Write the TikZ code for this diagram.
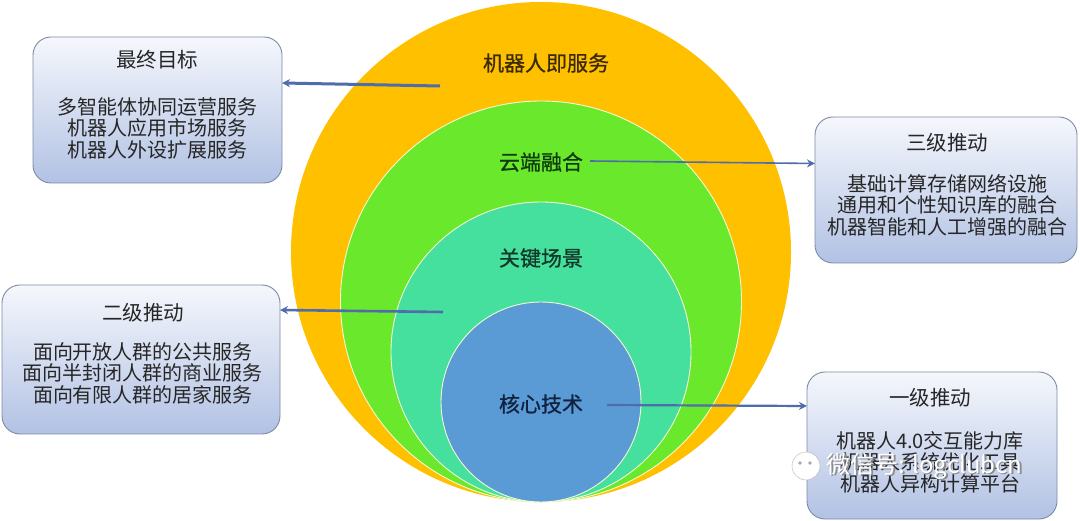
\documentclass[tikz,border=0pt]{standalone}
\usepackage{fontspec}
\newfontfamily\cjk{Noto Sans CJK SC}
\newfontfamily\cjkb[FakeBold=0.8]{Noto Sans CJK SC}
\usetikzlibrary{arrows.meta}
\definecolor{corange}{HTML}{FFC000}
\definecolor{cgreen}{HTML}{6AE82C}
\definecolor{cteal}{HTML}{45DF9E}
\definecolor{cblue}{HTML}{5B9BD5}
\definecolor{arrowc}{HTML}{4E6DAA}
\definecolor{boxtop}{HTML}{F5F7FC}
\definecolor{boxbot}{HTML}{B2C2E4}
\definecolor{boxline}{HTML}{7D8AA6}
\definecolor{boxtext}{HTML}{262626}
\definecolor{ringline}{HTML}{F4FAD0}
\definecolor{txtone}{HTML}{3A2A05}
\definecolor{txttwo}{HTML}{0E3A0E}
\definecolor{txtthree}{HTML}{12382A}
\definecolor{txtfour}{HTML}{10223F}
\begin{document}
\begin{tikzpicture}[x=1pt,y=-1pt,
  ring/.style={circle,inner sep=0pt,outer sep=0pt,minimum size=#1},
  lab/.style={font=\cjkb\fontsize{21}{24}\selectfont,inner sep=0pt},
  infobox/.style={draw=boxline,line width=0.9pt,rounded corners=18pt,
    top color=boxtop,bottom color=boxbot,inner sep=0pt,outer sep=0pt},
  boxtitle/.style={font=\cjk\fontsize{20.5}{24}\selectfont,text=boxtext,inner sep=0pt},
  boxbody/.style={font=\cjk\fontsize{20}{21.5}\selectfont,text=boxtext,align=center,inner sep=0pt},
  arr/.style={draw=arrowc,line width=2.2pt,-{Stealth[length=8pt,width=8pt]}},
  wm/.style={font=\cjk\fontsize{24}{26}\selectfont,inner sep=0pt,anchor=west}]
\useasboundingbox (0,0) rectangle (1080,521);
\fill[white] (0,0) rectangle (1080,521);

% concentric rings, tangent at the bottom
\node[ring=500pt,fill=corange] (c1) at (541,252) {};
\node[ring=401pt,fill=cgreen,draw=ringline,line width=0.9pt] (c2) at (541,301.5) {};
\node[ring=300pt,fill=cteal,draw=ringline,line width=0.9pt] (c3) at (541,352) {};
\node[ring=200pt,fill=cblue,draw=ringline,line width=0.9pt] (c4) at (541,402) {};

% ring labels
\node[lab,text=txtone] (l1) at (546,63) {机器人即服务};
\node[lab,text=txttwo] (l2) at (541,162) {云端融合};
\node[lab,text=txtthree] (l3) at (541,258) {关键场景};
\node[lab,text=txtfour] (l4) at (541,404) {核心技术};

% boxes
\node[infobox,minimum width=249pt,minimum height=146pt] (b1) at (157.5,110) {};
\node[infobox,minimum width=262pt,minimum height=146pt] (b2) at (946,190) {};
\node[infobox,minimum width=278pt,minimum height=149pt] (b3) at (141,359.5) {};
\node[infobox,minimum width=250pt,minimum height=147pt] (b4) at (932,445.5) {};

\node[boxtitle] (t1) at (157,60) {最终目标};
\node[boxbody] (d1) at (157,128) {多智能体协同运营服务\\机器人应用市场服务\\机器人外设扩展服务};
\node[boxtitle] (t2) at (947,143) {三级推动};
\node[boxbody] (d2) at (947,205) {基础计算存储网络设施\\通用和个性知识库的融合\\机器智能和人工增强的融合};
\node[boxtitle] (t3) at (143,313) {二级推动};
\node[boxbody] (d3) at (143,373) {面向开放人群的公共服务\\面向半封闭人群的商业服务\\面向有限人群的居家服务};
\node[boxtitle] (t4) at (930,398) {一级推动};
\node[boxbody] (d4) at (930,462) {机器人4.0交互能力库\\机器人系统优化工具\\机器人异构计算平台};

% arrows
\coordinate (s1) at (440,86);
\coordinate (s2) at (590,161);
\coordinate (s3) at (443,312);
\coordinate (s4) at (607,405);
\draw[arr,line width=3pt] (s1) -- (b1.east |- 0,83);
\draw[arr,line width=1.6pt] (s2) -- (b2.west |- 0,163.5);
\draw[arr,line width=2.6pt] (s3) -- (b3.east |- 0,310);
\draw[arr] (s4) -- (b4.west |- 0,406);

% watermark
\node[circle,draw=gray!60,fill=white,minimum size=28pt,inner sep=0pt] (wxicon) at (806,466) {};
\fill[gray!70] (800,463) circle (1.8pt) (810,463) circle (1.8pt);
\node[wm,text=black!45] (wmshadow) at (827.8,467.8) {微信号: logclubcn};
\node[wm,text=white] (wmtext) at (826.5,466.5) {微信号: logclubcn};
\end{tikzpicture}
\end{document}
